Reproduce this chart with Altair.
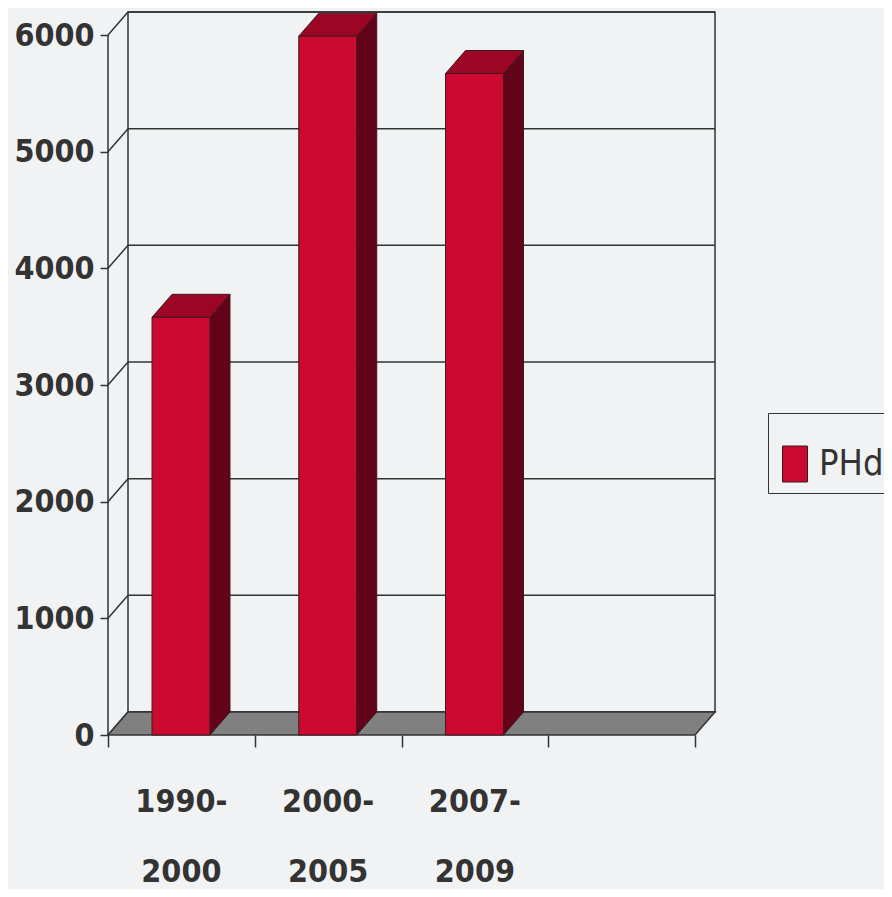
import altair as alt
import pandas as pd

# ---------------- data ----------------
categories = ["1990-2000", "2000-2005", "2007-2009"]
phd_values = [3580, 5990, 5670]
series_name = "PHd"
y_ticks = [0, 1000, 2000, 3000, 4000, 5000, 6000]
n_slots = 4  # category slots along the floor (last one empty)

# ---------------- layout / style constants ----------------
W, H = 607, 723                  # plot area (front floor + depth)
FRONT_W_PX, FRONT_H_PX = 587, 700
DEPTH_X_PX, DEPTH_Y_PX = 20, 23
BAR_OFF, BAR_W = 0.30, 0.395     # bar front face inside a slot (slot units)

FONT = "Liberation Sans Narrow, Arial Narrow, DejaVu Sans Condensed, sans-serif"
TEXT_COL = "#333333"
LINE_COL = "#333333"
FRONT_COL = "#cc0a2f"
TOP_COL = "#9c0524"
SIDE_COL = "#62031a"
EDGE_COL = "#3d1a20"
FLOOR_COL = "#808080"
BG = "#f1f2f3"
LABEL_SIZE = 32

y_top = max(y_ticks)
x_max = n_slots * W / FRONT_W_PX
y_max = y_top * H / FRONT_H_PX
dxu = n_slots * DEPTH_X_PX / FRONT_W_PX
dyu = y_top * DEPTH_Y_PX / FRONT_H_PX

xs = alt.Scale(domain=[0, x_max], nice=False, zero=False)
ys = alt.Scale(domain=[0, y_max], nice=False, zero=False)

X_AXIS = alt.Axis(values=list(range(n_slots + 1)), domain=False, grid=False,
                  labels=False, title=None, tickSize=12, tickColor=LINE_COL,
                  tickWidth=1.5)
Y_AXIS = alt.Axis(values=y_ticks, format="d", domain=False, grid=False, title=None,
                  tickSize=8, tickColor=LINE_COL, tickWidth=1.5,
                  labelFont=FONT, labelFontSize=LABEL_SIZE, labelFontWeight="bold",
                  labelColor=TEXT_COL, labelPadding=6)


def X(field):
    return alt.X(field, scale=xs, axis=X_AXIS)


def Y(field):
    return alt.Y(field, scale=ys, axis=Y_AXIS)


# ---------------- tables built from the arrays ----------------
wall = pd.DataFrame([{"x": dxu, "x2": n_slots + dxu, "y": dyu, "y2": y_top + dyu}])
grid = pd.DataFrame([{"x": dxu, "x2": n_slots + dxu, "y": t + dyu} for t in y_ticks])
diag = pd.DataFrame([{"x": 0, "x2": dxu, "y": t, "y2": t + dyu} for t in y_ticks])
yline = pd.DataFrame([{"x": 0, "y": 0, "y2": y_top}])
floor = pd.DataFrame([
    {"y": 0, "x": 0, "x2": n_slots},
    {"y": dyu, "x": dxu, "x2": n_slots + dxu},
])

front_rows, side_rows, top_rows, label_rows = [], [], [], []
for i, (c, v) in enumerate(zip(categories, phd_values)):
    xl = i + BAR_OFF
    xr = xl + BAR_W
    front_rows.append({"cat": c, "series": series_name, "x": xl, "x2": xr, "y": 0, "y2": v})
    side_rows += [
        {"cat": c, "x": xr, "y": 0, "y2": v},
        {"cat": c, "x": xr + dxu, "y": dyu, "y2": v + dyu},
    ]
    top_rows += [
        {"cat": c, "y": v, "x": xl, "x2": xr},
        {"cat": c, "y": v + dyu, "x": xl + dxu, "x2": xr + dxu},
    ]
    a, b = c.split("-")
    label_rows.append({"cat": c, "mid": i + 0.5, "label": a + "-\n" + b})

front = pd.DataFrame(front_rows)
side = pd.DataFrame(side_rows)
top = pd.DataFrame(top_rows)
labels = pd.DataFrame(label_rows)

# ---------------- layers ----------------
wall_l = alt.Chart(wall).mark_rect(fillOpacity=0, stroke=LINE_COL, strokeWidth=1.5).encode(
    x=X("x:Q"), x2="x2:Q", y=Y("y:Q"), y2="y2:Q")

grid_l = alt.Chart(grid).mark_rule(color=LINE_COL, strokeWidth=1.5).encode(
    x=X("x:Q"), x2="x2:Q", y=Y("y:Q"))

diag_l = alt.Chart(diag).mark_rule(color=LINE_COL, strokeWidth=1.5).encode(
    x=X("x:Q"), x2="x2:Q", y=Y("y:Q"), y2="y2:Q")

yline_l = alt.Chart(yline).mark_rule(color=LINE_COL, strokeWidth=1.5).encode(
    x=X("x:Q"), y=Y("y:Q"), y2="y2:Q")

floor_l = alt.Chart(floor).mark_area(
    orient="horizontal", color=FLOOR_COL, stroke=LINE_COL, strokeWidth=1.5
).encode(y=Y("y:Q"), x=X("x:Q"), x2="x2:Q")

side_l = alt.Chart(side).mark_area(
    orient="vertical", color=SIDE_COL, stroke=EDGE_COL, strokeWidth=1
).encode(x=X("x:Q"), y=Y("y:Q"), y2="y2:Q", detail="cat:N")

top_l = alt.Chart(top).mark_area(
    orient="horizontal", color=TOP_COL, stroke=EDGE_COL, strokeWidth=1
).encode(y=Y("y:Q"), x=X("x:Q"), x2="x2:Q", detail="cat:N")

front_l = alt.Chart(front).mark_rect(stroke=EDGE_COL, strokeWidth=1).encode(
    x=X("x:Q"), x2="x2:Q", y=Y("y:Q"), y2="y2:Q",
    color=alt.Color("series:N",
                    scale=alt.Scale(domain=[series_name], range=[FRONT_COL]),
                    legend=alt.Legend(
                        title=" ", titleFontSize=16, titlePadding=8,
                        orient="none", legendX=660, legendY=401,
                        strokeColor=LINE_COL, fillColor=BG, padding=9,
                        symbolType="M-1,-1.44H1V1.44H-1Z", symbolSize=625,
                        symbolStrokeColor=EDGE_COL, symbolStrokeWidth=1,
                        symbolOpacity=1,
                        labelFont=FONT, labelFontSize=36, labelColor=TEXT_COL,
                        labelOffset=6, labelLimit=300)))

label_l = alt.Chart(labels).mark_text(
    font=FONT, fontSize=LABEL_SIZE, fontWeight="bold", color=TEXT_COL,
    lineBreak="\n", lineHeight=70, baseline="alphabetic", align="center"
).encode(
    x=X("mid:Q"),
    y=alt.value(H + 77),
    text="label:N")

chart = alt.layer(
    wall_l, grid_l, diag_l, floor_l, yline_l, side_l, top_l, front_l, label_l
).properties(
    width=W, height=H,
    autosize=alt.AutoSizeParams(type="none"),
    padding={"left": 100, "top": 4, "right": 169, "bottom": 154},
    background=BG,
).configure_view(stroke=None)

chart.save("out.html", embed_options={"renderer": "svg", "actions": False})
